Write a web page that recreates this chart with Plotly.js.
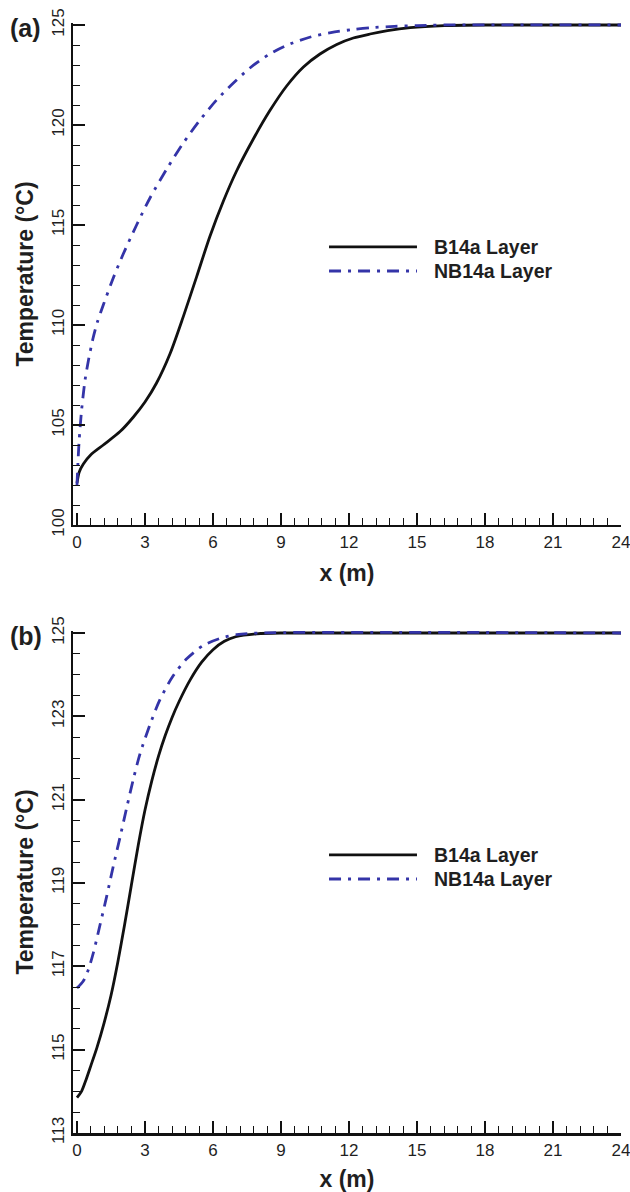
<!DOCTYPE html>
<html>
<head>
<meta charset="utf-8">
<script src="https://cdn.plot.ly/plotly-3.0.1.min.js"></script>
<style>
html,body{margin:0;padding:0;background:#fff;}
#chart{width:630px;height:1192px;}
</style>
</head>
<body>
<div id="chart"></div>
<script>
// ---- Data ----
// Panel (a)
const xB_a  = [0, 0.1, 0.28, 0.6, 1.16, 1.9, 2.49, 3.0, 3.51, 4.1, 4.69, 5.28, 5.87, 6.46, 7.04, 7.78, 8.51, 9.25, 9.99, 10.72, 11.46, 12.19, 12.93, 13.7, 14.7, 16.2, 18, 24];
const yB_a  = [102.1, 102.65, 103.05, 103.5, 104.0, 104.67, 105.4, 106.15, 107.1, 108.55, 110.42, 112.42, 114.45, 116.2, 117.7, 119.3, 120.72, 121.95, 122.9, 123.55, 124.03, 124.35, 124.55, 124.72, 124.87, 124.97, 125, 125];
const xNB_a = [0, 0.05, 0.1, 0.2, 0.35, 0.5, 0.7, 0.9, 1.16, 1.6, 2.04, 2.63, 3.22, 3.96, 4.69, 5.43, 6.16, 6.9, 7.63, 8.5, 9.4, 10.3, 11.2, 12.2, 13.0, 14.0, 15.0, 16.0, 24];
const yNB_a = [102.0, 103.3, 104.3, 105.7, 107.2, 108.2, 109.3, 110.15, 111.0, 112.35, 113.55, 115.0, 116.35, 117.8, 119.1, 120.25, 121.25, 122.1, 122.85, 123.55, 124.05, 124.4, 124.62, 124.78, 124.87, 124.93, 124.97, 125.0, 125.0];
// Panel (b)
const xB_b  = [0, 0.2, 0.4, 0.62, 0.88, 1.2, 1.5, 1.8, 2.1, 2.4, 2.7, 3.0, 3.3, 3.6, 3.9, 4.2, 4.5, 5.0, 5.5, 6.0, 6.5, 7.0, 7.93, 9, 24];
const yB_b  = [113.85, 114.0, 114.28, 114.63, 115.05, 115.65, 116.3, 117.1, 118.0, 118.95, 119.9, 120.75, 121.45, 122.05, 122.55, 122.98, 123.35, 123.88, 124.3, 124.6, 124.8, 124.91, 124.98, 125, 125];
const xNB_b = [0, 0.28, 0.5, 0.72, 1.01, 1.31, 1.6, 1.9, 2.19, 2.49, 2.78, 3.22, 3.66, 4.25, 4.84, 5.57, 6.31, 7.04, 8, 24];
const yNB_b = [116.48, 116.65, 116.92, 117.32, 117.98, 118.68, 119.4, 120.1, 120.8, 121.5, 122.1, 122.8, 123.4, 123.98, 124.38, 124.7, 124.87, 124.96, 125, 125];

const seriesNames = ["B14a Layer", "NB14a Layer"];
const panelLabels = ["(a)", "(b)"];
const xTitle = "x (m)";
const yTitle = "Temperature (°C)";

// ---- Styles ----
const FONT = "Liberation Sans, Arial, Helvetica, sans-serif";
const TXT = "#1f1f1f";
const BLACK = "#111111";
const BLUE = "rgb(52,52,168)";
const DASHDOT = "12px,7px,3px,7px";
const LW = 2.8;

function line(x, y, name, color, dash, xa, ya) {
  return {
    x: x, y: y, name: name, xaxis: xa, yaxis: ya,
    type: "scatter", mode: "lines",
    line: {color: color, width: LW, dash: dash, shape: "spline", smoothing: 0.8},
    showlegend: false, hoverinfo: "skip"
  };
}

const data = [
  line(xB_a, yB_a, seriesNames[0], BLACK, "solid", "x", "y"),
  line(xNB_a, yNB_a, seriesNames[1], BLUE, DASHDOT, "x", "y"),
  line(xB_b, yB_b, seriesNames[0], BLACK, "solid", "x2", "y2"),
  line(xNB_b, yNB_b, seriesNames[1], BLUE, DASHDOT, "x2", "y2")
];

function xAxis(anchor) {
  return {
    anchor: anchor, domain: [0, 1],
    range: [-0.176, 24], tick0: 0, dtick: 3,
    showgrid: false, zeroline: false,
    showline: true, linecolor: BLACK, linewidth: 2.5, mirror: false,
    ticks: "inside", ticklen: 12, tickwidth: 2, tickcolor: BLACK,
    minor: {ticks: "inside", ticklen: 7, tickwidth: 1, tickcolor: BLACK, dtick: 0.6, showgrid: false},
    tickfont: {family: FONT, size: 17, color: TXT},
    ticklabeloverflow: "allow",
    automargin: false,
    title: {text: "<b>" + xTitle + "</b>", font: {family: FONT, size: 23, color: TXT}, standoff: 14}
  };
}
function yAxis(anchor, domain, range, tick0, dtick, minorDtick) {
  return {
    anchor: anchor, domain: domain,
    range: range, tick0: tick0, dtick: dtick,
    showgrid: false, zeroline: false,
    showline: true, linecolor: BLACK, linewidth: 2.5, mirror: false,
    ticks: "inside", ticklen: 12, tickwidth: 2, tickcolor: BLACK,
    minor: {ticks: "inside", ticklen: 7, tickwidth: 1, tickcolor: BLACK, tick0: tick0, dtick: minorDtick, showgrid: false},
    tickangle: -90,
    tickfont: {family: FONT, size: 17, color: TXT},
    ticklabeloverflow: "allow",
    automargin: false,
    title: {text: "<b>" + yTitle + "</b>", font: {family: FONT, size: 23, color: TXT}, standoff: 9}
  };
}

// Legend samples (drawn in axis-domain coordinates of each panel)
function legendShapes(xr, yr) {
  return [
    {type: "line", xref: xr, yref: yr, x0: 0.4672, x1: 0.6277, y0: 0.554, y1: 0.554,
     line: {color: BLACK, width: LW}},
    {type: "line", xref: xr, yref: yr, x0: 0.4672, x1: 0.6277, y0: 0.506, y1: 0.506,
     line: {color: BLUE, width: LW, dash: DASHDOT}}
  ];
}
function legendTexts(xr, yr) {
  return [
    {xref: xr, yref: yr, x: 0.6551, y: 0.554, xanchor: "left", yanchor: "middle", showarrow: false,
     text: "<b>" + seriesNames[0] + "</b>", font: {family: FONT, size: 19.5, color: TXT}},
    {xref: xr, yref: yr, x: 0.6551, y: 0.506, xanchor: "left", yanchor: "middle", showarrow: false,
     text: "<b>" + seriesNames[1] + "</b>", font: {family: FONT, size: 19.5, color: TXT}}
  ];
}

const layout = {
  width: 630, height: 1192,
  margin: {l: 73, r: 9, t: 23, b: 59, pad: 0},
  paper_bgcolor: "#ffffff", plot_bgcolor: "#ffffff",
  showlegend: false, hovermode: false,
  xaxis: xAxis("y"),
  yaxis: yAxis("x", [0.54775, 1], [100, 125.1], 100, 5, 1),
  xaxis2: xAxis("y2"),
  yaxis2: yAxis("x2", [0, 0.45225], [113, 125.048], 113, 2, 0.5),
  shapes: legendShapes("x domain", "y domain").concat(legendShapes("x2 domain", "y2 domain")),
  annotations: legendTexts("x domain", "y domain").concat(legendTexts("x2 domain", "y2 domain")).concat([
    {xref: "x domain", yref: "y domain", x: -0.0858, y: 0.99, xanchor: "center", yanchor: "middle",
     showarrow: false, text: "<b>" + panelLabels[0] + "</b>", font: {family: FONT, size: 25, color: TXT}},
    {xref: "x2 domain", yref: "y2 domain", x: -0.0858, y: 0.99, xanchor: "center", yanchor: "middle",
     showarrow: false, text: "<b>" + panelLabels[1] + "</b>", font: {family: FONT, size: 25, color: TXT}}
  ])
};

Plotly.newPlot("chart", data, layout, {staticPlot: true, displayModeBar: false});
</script>
</body>
</html>
